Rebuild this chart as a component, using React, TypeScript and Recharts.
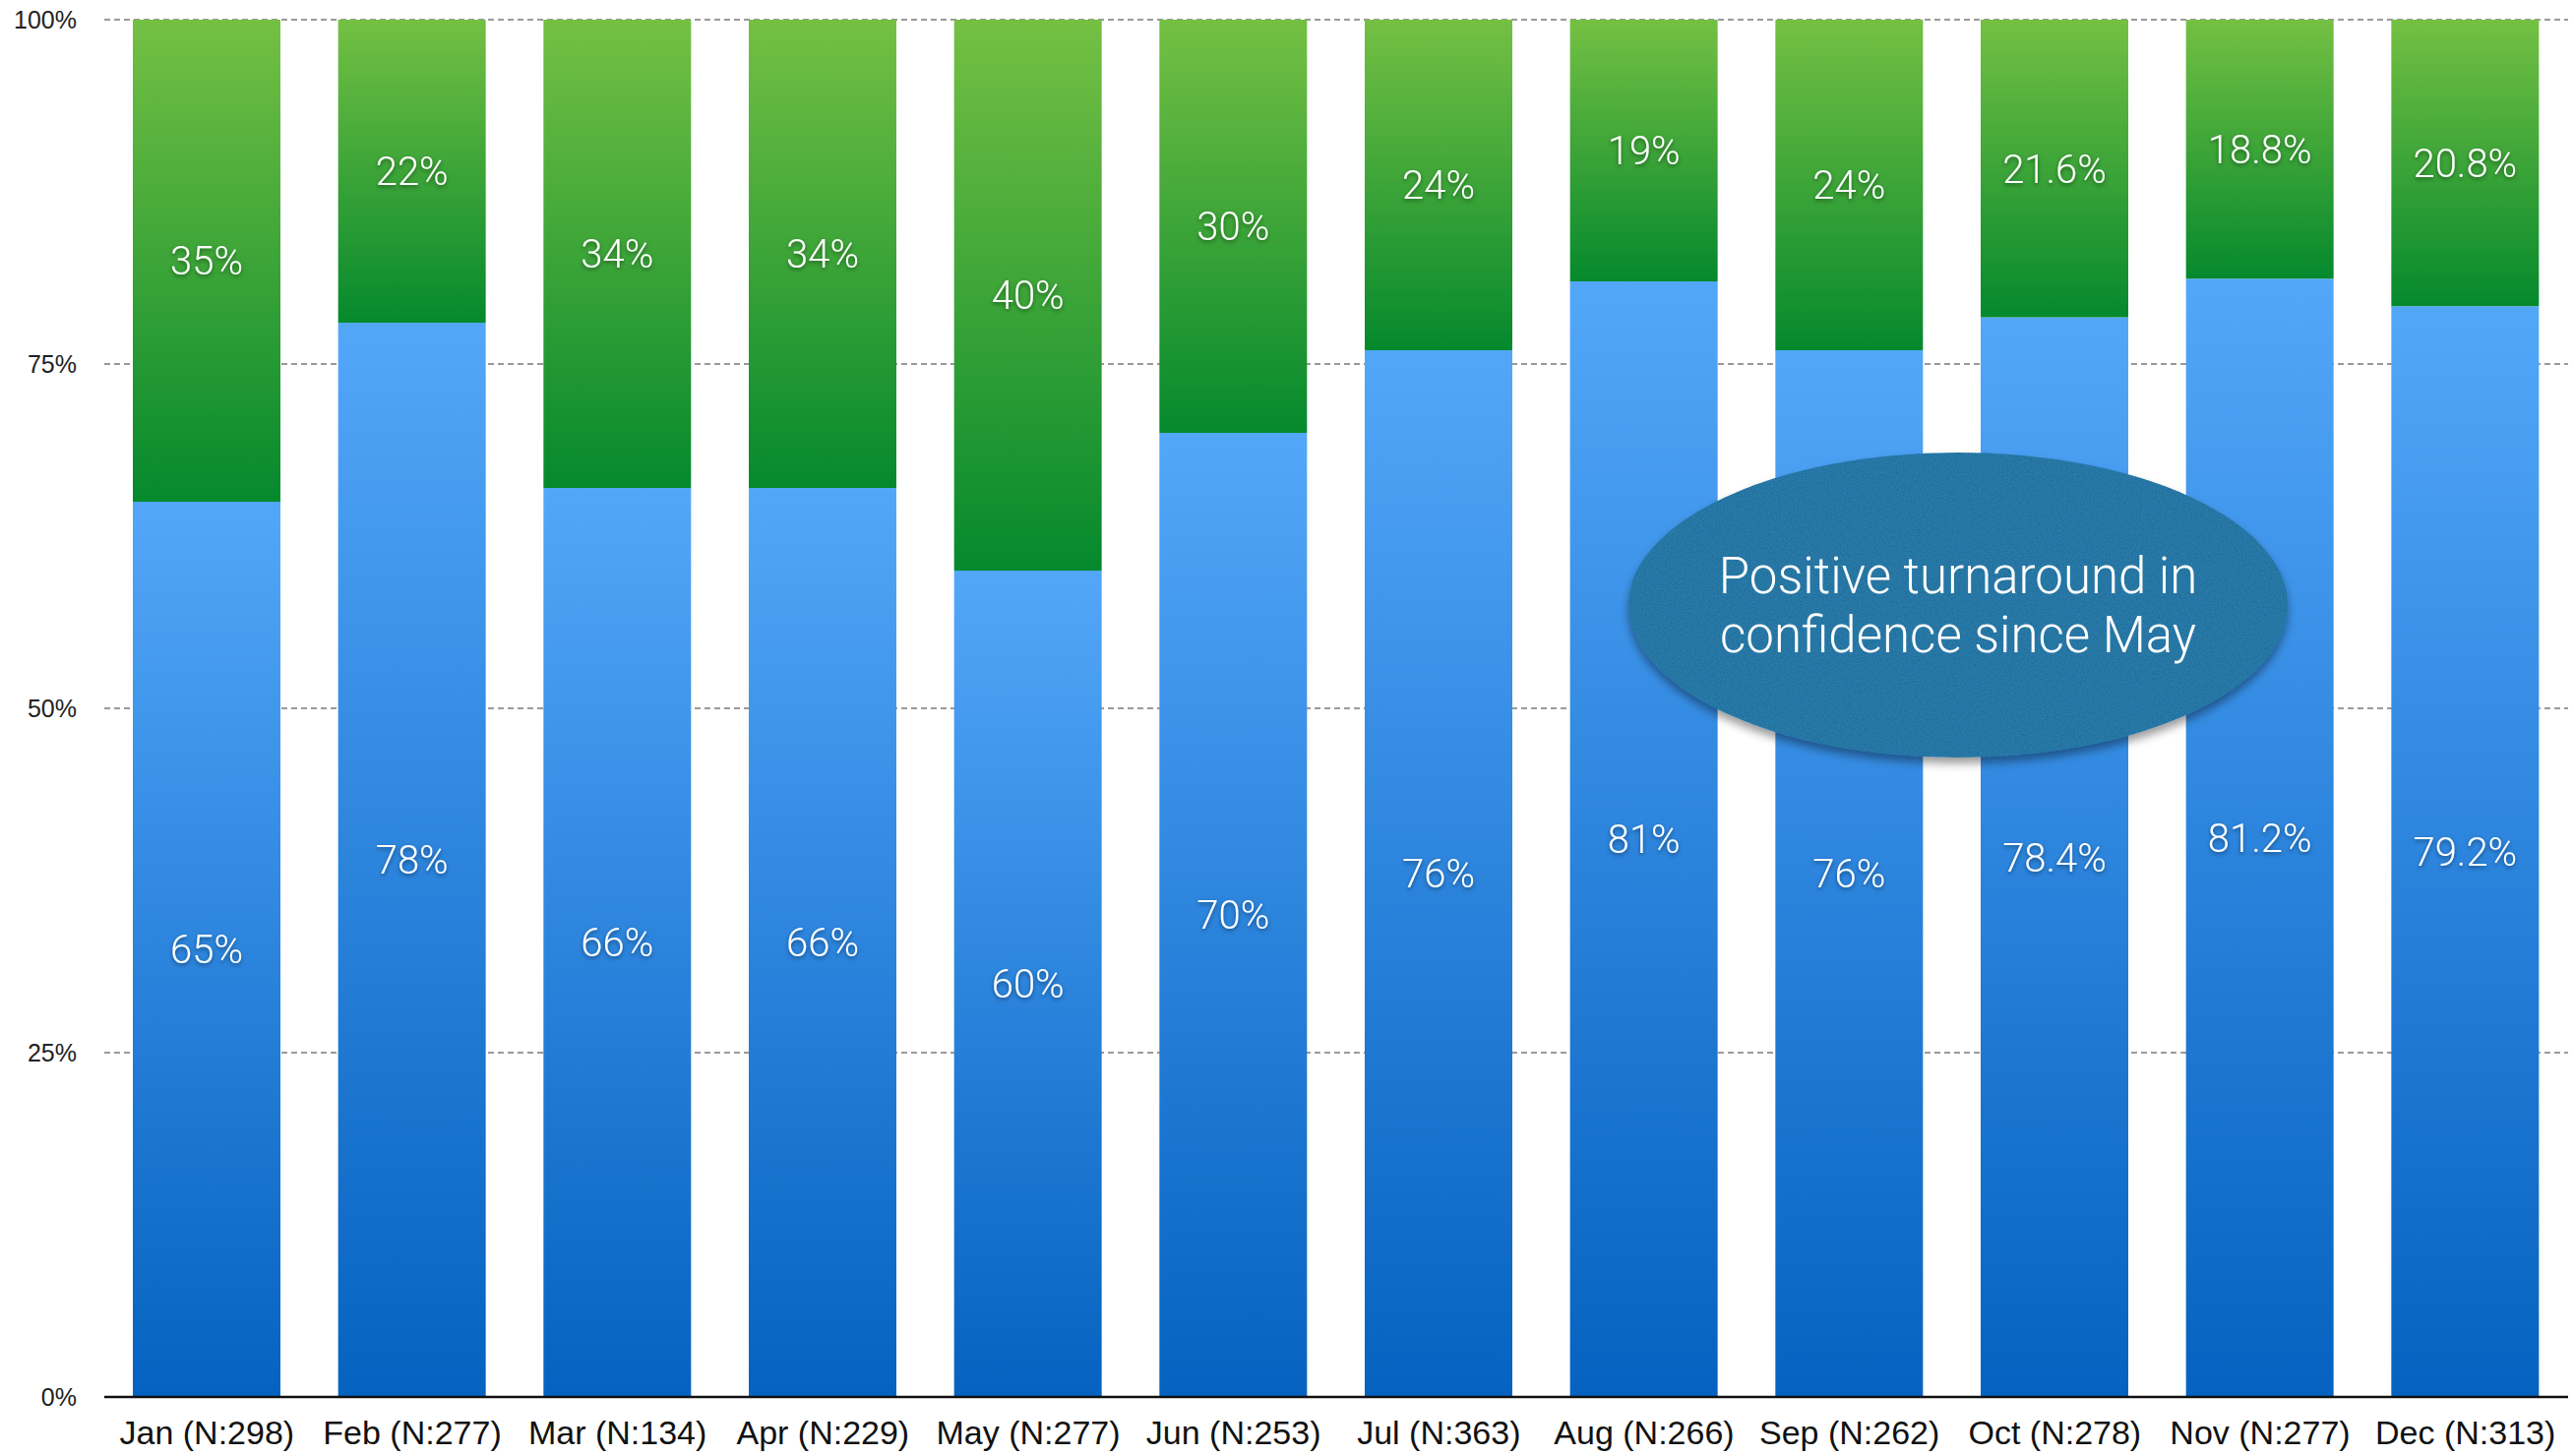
import React from "react";
import {
  BarChart,
  Bar,
  XAxis,
  YAxis,
  CartesianGrid,
  LabelList,
} from "recharts";

const MONTHS = [
  "Jan (N:298)",
  "Feb (N:277)",
  "Mar (N:134)",
  "Apr (N:229)",
  "May (N:277)",
  "Jun (N:253)",
  "Jul (N:363)",
  "Aug (N:266)",
  "Sep (N:262)",
  "Oct (N:278)",
  "Nov (N:277)",
  "Dec (N:313)",
];
const LOWER = [65, 78, 66, 66, 60, 70, 76, 81, 76, 78.4, 81.2, 79.2];
const UPPER = [35, 22, 34, 34, 40, 30, 24, 19, 24, 21.6, 18.8, 20.8];
const Y_TICKS = [0, 25, 50, 75, 100];
const NOTE_LINES = ["Positive turnaround in", "confidence since May"];
// note sits between Sep and Oct, centred at this value on the y scale
const NOTE_AFTER_INDEX = 9;
const NOTE_VALUE = 57.5;

const W = 2616;
const H = 1480;
const PLOT_LEFT = 106;
const PLOT_TOP = 20;
const RIGHT = 6;
const X_AXIS_H = 60;
const PLOT_W = W - PLOT_LEFT - RIGHT;
const PLOT_H = H - PLOT_TOP - X_AXIS_H;

const data = MONTHS.map((m, i) => ({ month: m, lower: LOWER[i], upper: UPPER[i] }));

const labelFont = "Roboto, 'Helvetica Neue', Helvetica, sans-serif";
const axisFont = "'Helvetica Neue', Helvetica, 'Liberation Sans', Arial, sans-serif";

function SegmentLabel(props: any) {
  const { x, y, width, height, value } = props;
  return (
    <text
      x={x + width / 2}
      y={y + height / 2}
      dy="0.36em"
      textAnchor="middle"
      fill="#fff"
      fontSize={40}
      fontWeight={300}
      fontFamily={labelFont}
      filter="url(#labelShadow)"
    >
      {`${value}%`}
    </text>
  );
}

function MonthTick(props: any) {
  const { x, y, payload } = props;
  return (
    <text x={x} y={y + 48} textAnchor="middle" fill="#111" fontSize={34} fontFamily={axisFont}>
      {payload.value}
    </text>
  );
}

function PctTick(props: any) {
  const { x, y, payload } = props;
  return (
    <text x={x - 28} y={y} dy="0.35em" textAnchor="end" fill="#222" fontSize={25} fontFamily={axisFont}>
      {`${payload.value}%`}
    </text>
  );
}

function Note() {
  const band = PLOT_W / MONTHS.length;
  const cx = PLOT_LEFT + NOTE_AFTER_INDEX * band + 6;
  const cy = PLOT_TOP + (1 - NOTE_VALUE / 100) * PLOT_H;
  return (
    <svg
      width={W}
      height={H}
      style={{ position: "absolute", left: 0, top: 0, pointerEvents: "none" }}
    >
      <ellipse cx={cx} cy={cy} rx={335} ry={155} fill="#2b7bab" filter="url(#paper)" />
      {NOTE_LINES.map((line, i) => (
        <text
          key={i}
          x={cx}
          y={cy - 12 + i * 60}
          textAnchor="middle"
          fill="#fff"
          fontSize={51}
          fontWeight={300}
          fontFamily={labelFont}
        >
          {line}
        </text>
      ))}
    </svg>
  );
}

export default function App() {
  return (
    <div style={{ position: "absolute", left: 0, top: 0, width: W, height: H, background: "#fff" }}>
      <svg width={0} height={0} style={{ position: "absolute" }}>
        <defs>
          <linearGradient id="gBlue" x1="0" y1="0" x2="0" y2="1">
            <stop offset="0%" stopColor="#53a7f9" />
            <stop offset="100%" stopColor="#0562c0" />
          </linearGradient>
          <linearGradient id="gGreen" x1="0" y1="0" x2="0" y2="1">
            <stop offset="0%" stopColor="#74c043" />
            <stop offset="100%" stopColor="#05892d" />
          </linearGradient>
          <filter id="labelShadow" x="-20%" y="-40%" width="140%" height="180%">
            <feDropShadow dx="0" dy="2" stdDeviation="2" floodColor="#000" floodOpacity="0.45" />
          </filter>
          <filter id="paper" x="-10%" y="-10%" width="120%" height="125%">
            <feGaussianBlur in="SourceAlpha" stdDeviation="5" result="blur" />
            <feOffset in="blur" dy="6" result="off" />
            <feComponentTransfer in="off" result="shadow">
              <feFuncA type="linear" slope="0.4" />
            </feComponentTransfer>
            <feTurbulence type="fractalNoise" baseFrequency="0.7" numOctaves="3" seed="3" result="noise" />
            <feColorMatrix
              in="noise"
              type="matrix"
              values="0 0 0 0 0  0 0 0 0 0  0 0 0 0 0  0 0 0 -0.6 0.38"
              result="dots"
            />
            <feComposite in="dots" in2="SourceGraphic" operator="in" result="tex" />
            <feMerge>
              <feMergeNode in="shadow" />
              <feMergeNode in="SourceGraphic" />
              <feMergeNode in="tex" />
            </feMerge>
          </filter>
        </defs>
      </svg>
      <BarChart
        width={W}
        height={H}
        data={data}
        margin={{ top: PLOT_TOP, right: RIGHT, bottom: 0, left: 0 }}
        barSize={150}
      >
        <CartesianGrid vertical={false} stroke="#9a9a9a" strokeWidth={2} strokeDasharray="6 4" />
        <XAxis
          dataKey="month"
          height={X_AXIS_H}
          tickLine={false}
          tickSize={0}
          tickMargin={0}
          axisLine={{ stroke: "#111", strokeWidth: 2.5 }}
          tick={<MonthTick />}
          interval={0}
        />
        <YAxis
          width={PLOT_LEFT}
          domain={[0, 100]}
          ticks={Y_TICKS}
          axisLine={false}
          tickLine={false}
          tickSize={0}
          tickMargin={0}
          tick={<PctTick />}
        />
        <Bar dataKey="lower" stackId="a" fill="url(#gBlue)" isAnimationActive={false}>
          <LabelList dataKey="lower" content={<SegmentLabel />} />
        </Bar>
        <Bar dataKey="upper" stackId="a" fill="url(#gGreen)" isAnimationActive={false}>
          <LabelList dataKey="upper" content={<SegmentLabel />} />
        </Bar>
      </BarChart>
      <Note />
    </div>
  );
}
